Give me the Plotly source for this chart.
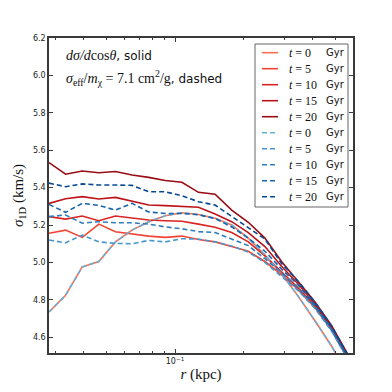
import plotly.graph_objects as go

###### Data ##############################
r_kpc = [0.02818, 0.03330, 0.03936, 0.04651, 0.05495, 0.06494, 0.07674, 0.09068,
         0.10715, 0.12662, 0.14962, 0.17681, 0.20893, 0.24689, 0.29174, 0.34473,
         0.40738, 0.48139, 0.56885, 0.67219]

times = [0, 5, 10, 15, 20]

# d sigma / d cos theta (solid)
solid_t0 = [4.735, 4.825, 4.976, 5.005, 5.110, 5.173, 5.218, 5.250, 5.266, 5.256,
            5.236, 5.200, 5.130, 5.040, 4.940, 4.820, 4.690, 4.555, 4.400, 4.220]
solid_t5 = [5.156, 5.173, 5.134, 5.205, 5.164, 5.152, 5.141, 5.134, 5.141, 5.123,
            5.110, 5.085, 5.060, 5.005, 4.935, 4.855, 4.760, 4.640, 4.485, 4.325]
solid_t10 = [5.245, 5.232, 5.248, 5.223, 5.248, 5.236, 5.227, 5.223, 5.220, 5.205,
             5.188, 5.160, 5.110, 5.035, 4.950, 4.865, 4.770, 4.645, 4.490, 4.330]
solid_t15 = [5.316, 5.341, 5.352, 5.339, 5.348, 5.329, 5.307, 5.304, 5.298, 5.295,
             5.259, 5.218, 5.160, 5.085, 4.980, 4.885, 4.780, 4.655, 4.500, 4.340]
solid_t20 = [5.534, 5.472, 5.489, 5.480, 5.486, 5.468, 5.455, 5.438, 5.429, 5.375,
             5.365, 5.280, 5.215, 5.130, 5.005, 4.900, 4.790, 4.665, 4.510, 4.350]

# sigma_eff / m = 7.1 cm^2/g (dashed); t=0 is the same initial profile
dashed_t0 = solid_t0
dashed_t5 = [5.120, 5.105, 5.146, 5.110, 5.102, 5.100, 5.118, 5.110, 5.127, 5.125,
             5.110, 5.088, 5.055, 5.000, 4.925, 4.850, 4.755, 4.635, 4.480, 4.320]
dashed_t10 = [5.245, 5.254, 5.210, 5.218, 5.212, 5.212, 5.205, 5.190, 5.180, 5.165,
              5.160, 5.125, 5.090, 5.020, 4.945, 4.860, 4.765, 4.640, 4.485, 4.330]
dashed_t15 = [5.310, 5.268, 5.316, 5.305, 5.280, 5.316, 5.270, 5.262, 5.262, 5.255,
              5.235, 5.190, 5.130, 5.060, 4.965, 4.880, 4.775, 4.650, 4.495, 4.335]
dashed_t20 = [5.424, 5.405, 5.420, 5.414, 5.414, 5.412, 5.378, 5.378, 5.357, 5.325,
              5.307, 5.245, 5.185, 5.125, 4.995, 4.900, 4.790, 4.662, 4.505, 4.345]

solid_series = [solid_t0, solid_t5, solid_t10, solid_t15, solid_t20]
dashed_series = [dashed_t0, dashed_t5, dashed_t10, dashed_t15, dashed_t20]

reds = ["#fb7050", "#f14432", "#d92523", "#bc141a", "#980c13"]
blues = ["#6aaed6", "#4a98c9", "#2e7ebc", "#1764ab", "#084a91"]

y_ticks = [4.6, 4.8, 5.0, 5.2, 5.4, 5.6, 5.8, 6.0, 6.2]
x_minor = [0.03, 0.04, 0.05, 0.06, 0.07, 0.08, 0.09, 0.2, 0.3, 0.4, 0.5]

SERIF = "Liberation Serif"
SANS = "DejaVu Sans"
AX = "#3a3a3a"

fig = go.Figure()

for t, ys, c in zip(times, solid_series, reds):
    fig.add_trace(go.Scatter(x=r_kpc, y=ys, mode="lines", name=f"t={t}",
                             line=dict(color=c, width=1.6), showlegend=False))
for t, ys, c in zip(times, dashed_series, blues):
    fig.add_trace(go.Scatter(x=r_kpc, y=ys, mode="lines", name=f"t={t} dashed",
                             line=dict(color=c, width=1.6, dash="5px,3px"),
                             showlegend=False))

axis_common = dict(showline=True, linecolor=AX, linewidth=1.5, mirror="allticks",
                   ticks="inside", tickcolor=AX, tickwidth=1, ticklen=4,
                   showgrid=False, zeroline=False, automargin=False,
                   tickfont=dict(family=SANS, size=8, color="#222"))

fig.update_xaxes(type="log", range=[-1.55, -0.223],
                 tickvals=[0.1], ticktext=["10<sup>−1</sup>"],
                 minor=dict(tickvals=x_minor, ticks="inside", ticklen=2,
                            tickcolor=AX, tickwidth=1),
                 title=dict(text="<i>r</i> (kpc)", standoff=0,
                            font=dict(family=SERIF, size=15, color="#111")),
                 **axis_common)
fig.update_yaxes(range=[4.516, 6.2], tickvals=y_ticks,
                 ticktext=[f"{v:.1f}" for v in y_ticks],
                 title=dict(text="<i>σ</i><sub>1D</sub> (km/s)", standoff=6,
                            font=dict(family=SERIF, size=15, color="#111")),
                 **axis_common)

# text labels in the upper left
fig.add_annotation(xref="paper", yref="paper", x=0.05, y=0.943, xanchor="left",
                   yanchor="middle", showarrow=False,
                   text=(f"<span style='font-family:{SERIF};font-size:14px'>"
                         "<i>dσ/d</i>cos<i>θ</i></span>, solid"),
                   font=dict(family=SANS, size=12, color="#111"))
fig.add_annotation(xref="paper", yref="paper", x=0.05, y=0.872, xanchor="left",
                   yanchor="middle", showarrow=False,
                   text=(f"<span style='font-family:{SERIF};font-size:14px'>"
                         "<i>σ</i><sub>eff</sub>/<i>m</i><sub>χ</sub> = 7.1 "
                         "cm<sup>2</sup>/g</span>, dashed"),
                   font=dict(family=SANS, size=12, color="#111"))

###### Legend drawn by hand (plotly's rows are too tall for this box) #######
px_x = lambda p: (p - 49) / 304
px_y = lambda p: (353 - p) / 315

fig.add_shape(type="rect", xref="paper", yref="paper",
              x0=px_x(255), x1=px_x(348), y0=px_y(207), y1=px_y(44),
              line=dict(color="#666", width=1), fillcolor="white", layer="above")

entries = [(t, c, "solid") for t, c in zip(times, reds)] + \
          [(t, c, "5px,3px") for t, c in zip(times, blues)]
for k, (t, c, dash) in enumerate(entries):
    yk = px_y(52.7 + 16 * k)
    fig.add_shape(type="line", xref="paper", yref="paper",
                  x0=px_x(262), x1=px_x(278), y0=yk, y1=yk,
                  line=dict(color=c, width=1.6, dash=dash), layer="above")
    fig.add_annotation(xref="paper", yref="paper", x=px_x(287), y=yk,
                       xanchor="left", yanchor="middle", showarrow=False,
                       text=f"<i>t</i> = {t}",
                       font=dict(family=SERIF, size=12, color="#111"))
    fig.add_annotation(xref="paper", yref="paper", x=px_x(324), y=yk,
                       xanchor="left", yanchor="middle", showarrow=False,
                       text="Gyr", font=dict(family=SANS, size=10, color="#111"))

fig.update_layout(width=392, height=392,
                  margin=dict(l=49, r=39, t=38, b=39),
                  paper_bgcolor="white", plot_bgcolor="white",
                  showlegend=False)

# the page body has a default 8px margin; drop it so the figure sits at 0,0
fig.write_html("out.html", config={"displayModeBar": False},
               post_script="document.body.style.margin = '0px';")
